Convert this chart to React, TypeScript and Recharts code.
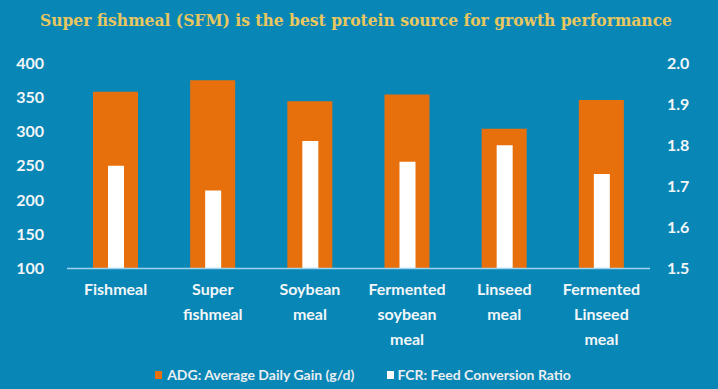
import React from "react";
import { ComposedChart, Bar, XAxis, YAxis } from "recharts";

const categoryLines: string[][] = [
  ["Fishmeal"],
  ["Super", "fishmeal"],
  ["Soybean", "meal"],
  ["Fermented", "soybean", "meal"],
  ["Linseed", "meal"],
  ["Fermented", "Linseed", "meal"],
];
const categories = categoryLines.map((l) => l.join(" "));
const adgValues = [358, 375, 344, 354, 304, 346];
const fcrValues = [1.75, 1.69, 1.81, 1.76, 1.8, 1.73];
const leftTicks = [100, 150, 200, 250, 300, 350, 400];
const rightTicks = [1.5, 1.6, 1.7, 1.8, 1.9, 2.0];

const title = "Super fishmeal (SFM) is the best protein source for growth performance";
const adgName = "ADG: Average Daily Gain (g/d)";
const fcrName = "FCR: Feed Conversion Ratio";

const data = categories.map((c, i) => ({
  name: c,
  adg: adgValues[i],
  fcr: fcrValues[i],
}));

const BG = "#0886b6";
const ORANGE = "#e8700c";
const TEXT = "#f2f6f8";
const FONT = "Lato, 'Open Sans', sans-serif";

const CategoryTick = (props: any) => {
  const { x, y, payload } = props;
  const idx = categories.indexOf(payload.value);
  const lines = idx >= 0 ? categoryLines[idx] : [String(payload.value)];
  return (
    <g>
      {lines.map((ln, i) => (
        <text
          key={i}
          x={x}
          y={y + 18 + i * 25}
          textAnchor="middle"
          fill={TEXT}
          fontFamily={FONT}
          fontWeight={700}
          fontSize={16}
        >
          {ln}
        </text>
      ))}
    </g>
  );
};

const LegendBox = () => (
  <div
    style={{
      position: "absolute",
      left: 0,
      top: 366,
      width: 718,
      display: "flex",
      justifyContent: "center",
      alignItems: "center",
      gap: 33,
      fontFamily: FONT,
      fontWeight: 700,
      fontSize: 14,
      color: "#e8eef2",
      paddingLeft: 8,
      boxSizing: "border-box",
    }}
  >
    <div style={{ display: "flex", alignItems: "center" }}>
      <span style={{ width: 7, height: 8, background: ORANGE, display: "inline-block", marginRight: 5 }} />
      <span>{adgName}</span>
    </div>
    <div style={{ display: "flex", alignItems: "center" }}>
      <span style={{ width: 7, height: 8, background: "#ffffff", display: "inline-block", marginRight: 3 }} />
      <span>{fcrName}</span>
    </div>
  </div>
);

export default function App() {
  return (
    <div
      style={{
        position: "fixed",
        left: 0,
        top: 0,
        width: 718,
        height: 389,
        background: BG,
        overflow: "hidden",
      }}
    >
      <svg width={718} height={40} style={{ position: "absolute", left: 0, top: 0 }}>
        <text
          x={40}
          y={26}
          textLength={632}
          lengthAdjust="spacingAndGlyphs"
          fill="#e9c75f"
          fontFamily="'DejaVu Serif', 'Liberation Serif', serif"
          fontWeight={700}
          fontSize={16}
        >
          {title}
        </text>
      </svg>
      <div style={{ position: "absolute", left: 0, top: 0 }}>
        <ComposedChart
          width={718}
          height={389}
          data={data}
          margin={{ top: 63, right: 0, bottom: 119.5, left: 0 }}
        >
          <XAxis
            xAxisId="a"
            dataKey="name"
            axisLine={{ stroke: "#9fd3ee", strokeWidth: 1.5 }}
            tickLine={false}
            tick={<CategoryTick />}
            interval={0}
            height={1}
          />
          <XAxis xAxisId="b" dataKey="name" hide height={0} />
          <YAxis
            yAxisId="left"
            orientation="left"
            width={67}
            domain={[100, 400]}
            ticks={leftTicks}
            axisLine={false}
            tickLine={false}
            tickSize={6}
            tickMargin={17}
            tick={{ fill: TEXT, fontFamily: FONT, fontWeight: 700, fontSize: 16 }}
          />
          <YAxis
            yAxisId="right"
            orientation="right"
            width={68}
            domain={[1.5, 2.0]}
            ticks={rightTicks}
            tickFormatter={(v: number) => v.toFixed(1)}
            axisLine={false}
            tickLine={false}
            tickSize={6}
            tickMargin={11}
            tick={{ fill: TEXT, fontFamily: FONT, fontWeight: 700, fontSize: 16 }}
          />
          <Bar
            xAxisId="a"
            yAxisId="left"
            dataKey="adg"
            name={adgName}
            fill={ORANGE}
            barSize={45}
            isAnimationActive={false}
          />
          <Bar
            xAxisId="b"
            yAxisId="right"
            dataKey="fcr"
            name={fcrName}
            fill="#ffffff"
            barSize={16}
            isAnimationActive={false}
          />
        </ComposedChart>
      </div>
      <LegendBox />
    </div>
  );
}
